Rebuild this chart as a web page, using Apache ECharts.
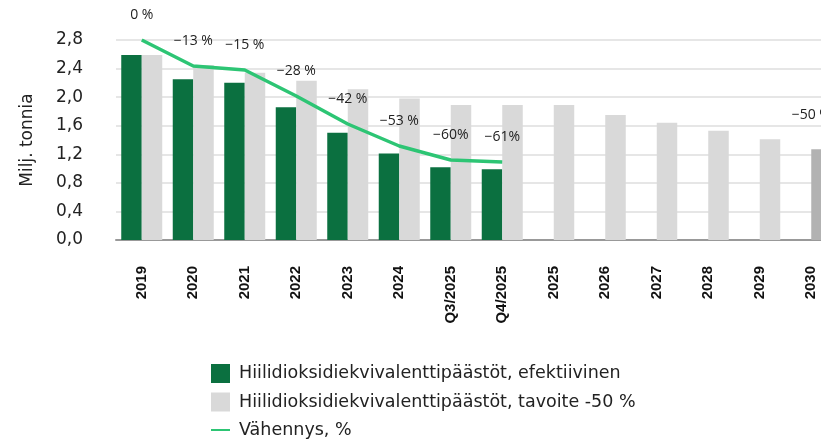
<!DOCTYPE html>
<html>
<head>
<meta charset="utf-8">
<script src="https://cdn.jsdelivr.net/npm/echarts@6/dist/echarts.min.js"></script>
<style>
  html, body { margin: 0; padding: 0; background: #fff; }
  #chart { width: 821px; height: 441px; }
</style>
</head>
<body>
<div id="chart"></div>
<script>
  // kategoriat
  var categories = ['2019', '2020', '2021', '2022', '2023', '2024', 'Q3/2025', 'Q4/2025',
    '2025', '2026', '2027', '2028', '2029', '2030'];
  // milj. tonnia, toteutunut
  var efektiivinen = [2.59, 2.25, 2.20, 1.86, 1.50, 1.21, 1.02, 0.99,
    null, null, null, null, null, null];
  // milj. tonnia, tavoite -50 %
  var tavoite = [2.59, 2.45, 2.34, 2.23, 2.11, 1.98, 1.89, 1.89,
    1.89, 1.75, 1.64, 1.53, 1.41, 1.27];
  // vähennys %
  var vahennys = [0, -13, -15, -28, -42, -53, -60, -61,
    null, null, null, null, null, -50];
  var vahennysLabels = ['0 %', '\u221213 %', '\u221215 %', '\u221228 %', '\u221242 %', '\u221253 %', '\u221260%', '\u221261%',
    '', '', '', '', '', '\u221250 %'];
  var yTicks = ['0,0', '0,4', '0,8', '1,2', '1,6', '2,0', '2,4', '2,8'];

  var mainFont = 'DejaVu Sans';
  var chart = echarts.init(document.getElementById('chart'));

  var tavoiteData = tavoite.map(function (v, i) {
    if (i === tavoite.length - 1) {
      return { value: v, itemStyle: { color: '#b2b2b2' } };
    }
    return v;
  });

  chart.setOption({
    animation: false,
    grid: { left: 116, width: 721, top: 40, bottom: 201, outerBoundsMode: 'none' },
    legend: {
      orient: 'vertical',
      left: 210,
      top: 364,
      padding: 0,
      height: 80,
      itemWidth: 19,
      itemHeight: 19,
      itemGap: 9.5,
      textStyle: { fontFamily: mainFont, fontSize: 17.5, color: '#222', padding: [0, 0, 0, 4] },
      data: [
        { name: 'Hiilidioksidiekvivalenttipäästöt, efektiivinen', icon: 'rect' },
        { name: 'Hiilidioksidiekvivalenttipäästöt, tavoite -50 %', icon: 'rect' },
        { name: 'Vähennys, %', itemStyle: { opacity: 0 } }
      ]
    },
    xAxis: {
      type: 'category',
      data: categories,
      axisLine: { lineStyle: { color: '#999', width: 2 } },
      axisTick: { show: false },
      axisLabel: {
        rotate: 90,
        margin: 26,
        fontFamily: 'Liberation Sans',
        fontWeight: 'bold',
        fontSize: 15,
        color: '#111'
      }
    },
    yAxis: [
      {
        type: 'value',
        min: 0,
        max: 2.8,
        interval: 0.4,
        name: 'Milj. tonnia',
        nameLocation: 'middle',
        nameRotate: 90,
        nameGap: 80,
        nameTextStyle: { fontFamily: mainFont, fontSize: 17, color: '#222' },
        axisLine: { show: false },
        axisTick: { show: false },
        splitLine: { lineStyle: { color: '#e6e6e6', width: 2 } },
        axisLabel: {
          margin: 33,
          fontFamily: mainFont,
          fontSize: 17,
          color: '#222',
          formatter: function (v) { return yTicks[Math.round(v / 0.4)]; }
        }
      },
      {
        type: 'value',
        min: -100,
        max: 0,
        show: false
      }
    ],
    series: [
      {
        name: 'Hiilidioksidiekvivalenttipäästöt, efektiivinen',
        type: 'bar',
        data: efektiivinen,
        barWidth: 20.5,
        barGap: '0%',
        itemStyle: { color: '#0b7040' }
      },
      {
        name: 'Hiilidioksidiekvivalenttipäästöt, tavoite -50 %',
        type: 'bar',
        data: tavoiteData,
        barWidth: 20.5,
        barGap: '0%',
        itemStyle: { color: '#d9d9d9' }
      },
      {
        name: 'Vähennys, %',
        type: 'line',
        yAxisIndex: 1,
        data: vahennys,
        symbol: 'circle',
        symbolSize: 0,
        connectNulls: false,
        lineStyle: { color: '#2dc574', width: 3.5 },
        itemStyle: { color: '#2dc574' },
        label: {
          show: true,
          position: 'top',
          distance: 18,
          fontFamily: 'Open Sans',
          fontSize: 14,
          color: '#222',
          formatter: function (p) { return vahennysLabels[p.dataIndex]; }
        }
      }
    ]
  });
</script>
</body>
</html>
